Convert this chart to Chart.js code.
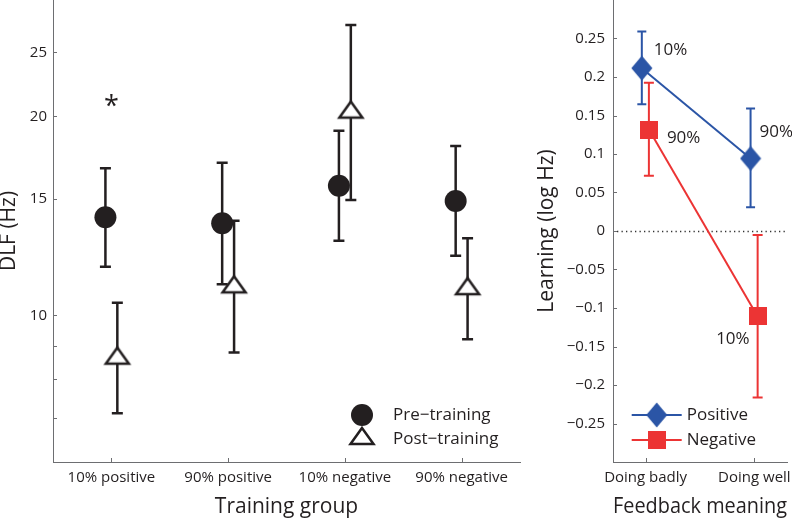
<!DOCTYPE html>
<html>
<head>
<meta charset="utf-8">
<script src="https://cdn.jsdelivr.net/npm/chart.js@4.4.1/dist/chart.umd.min.js"></script>
<style>
  html, body { margin: 0; padding: 0; background: #fff; }
  #wrap { position: relative; width: 792px; height: 520px; }
  canvas { position: absolute; top: 0; }
  #dlf { left: 0; }
  #learn { left: 522px; }
</style>
</head>
<body>
<div id="wrap">
  <canvas id="dlf" width="522" height="520"></canvas>
  <canvas id="learn" width="270" height="520"></canvas>
</div>
<script>
// Left panel: DLF (Hz) before / after training, per group
const groups = ['10% positive', '90% positive', '10% negative', '90% negative'];
const preDLF = [14.07, 13.78, 15.71, 14.89];
const preLow = [11.85, 11.14, 12.97, 12.31];
const preHigh = [16.7, 17.02, 19.03, 18.04];
const postDLF = [8.69, 11.14, 20.48, 11.07];
const postLow = [7.11, 8.79, 14.94, 9.2];
const postHigh = [10.45, 13.9, 27.5, 13.08];
const dlfTicks = [7, 8, 9, 10, 15, 20, 25];
const dlfTickLabels = ['', '', '', '10', '15', '20', '25'];
const starGroup = 0;
const starValue = 21;

// Right panel: learning (log Hz) by feedback meaning
const feedback = ['Doing badly', 'Doing well'];
const posLearn = [0.2115, 0.0942];
const posLow = [0.1645, 0.0307];
const posHigh = [0.259, 0.159];
const negLearn = [0.1317, -0.111];
const negLow = [0.0716, -0.2163];
const negHigh = [0.1926, -0.0052];
const posPct = ['10%', '90%'];
const negPct = ['90%', '10%'];
const learnTicks = [-0.25, -0.2, -0.15, -0.1, -0.05, 0, 0.05, 0.1, 0.15, 0.2, 0.25];
const learnTickLabels = ['\u22120.25', '\u22120.2', '\u22120.15', '\u22120.1', '\u22120.05', '0', '0.05', '0.1', '0.15', '0.2', '0.25'];

const ink = '#231f20';
const axisGray = '#6d6e71';
const blue = '#2b55a6';
const red = '#ec3434';
const FONT = "'Open Sans', sans-serif";

Chart.defaults.font.family = FONT;
Chart.defaults.color = ink;

// small canvases used as point styles
function sprite(w, h, paint) {
  const c = document.createElement('canvas');
  c.width = w;
  c.height = h;
  paint(c.getContext('2d'));
  return c;
}
const triangleImg = sprite(30, 26, g => {
  g.beginPath();
  g.moveTo(15, 5);
  g.lineTo(26.5, 21);
  g.lineTo(3.5, 21);
  g.closePath();
  g.fillStyle = '#fff';
  g.fill();
  g.lineWidth = 2.5;
  g.strokeStyle = ink;
  g.stroke();
});
const diamondImg = sprite(22, 26, g => {
  g.beginPath();
  g.moveTo(11, 0.5);
  g.lineTo(21.5, 13);
  g.lineTo(11, 25.5);
  g.lineTo(0.5, 13);
  g.closePath();
  g.fillStyle = blue;
  g.fill();
});
const squareImg = sprite(18, 18, g => {
  g.fillStyle = red;
  g.fillRect(0, 0, 18, 18);
});

// fixed axis boxes so both panels line up like the original figure
function fixBox(w, h) {
  return s => {
    if (w != null) s.width = w;
    if (h != null) s.height = h;
    s.paddingTop = s.paddingBottom = s.paddingLeft = s.paddingRight = 0;
  };
}

// vertical error bars with caps, from dataset errLow / errHigh
const errorBars = {
  id: 'errorBars',
  beforeDatasetsDraw(chart) {
    const ctx = chart.ctx;
    const ys = chart.scales.y;
    chart.data.datasets.forEach((ds, i) => {
      if (!ds.errLow) return;
      ctx.save();
      ctx.strokeStyle = ds.errColor;
      ctx.lineWidth = ds.errWidth;
      chart.getDatasetMeta(i).data.forEach((pt, j) => {
        const top = ys.getPixelForValue(ds.errHigh[j]);
        const bot = ys.getPixelForValue(ds.errLow[j]);
        const c = ds.errCap;
        ctx.beginPath();
        ctx.moveTo(pt.x, top);
        ctx.lineTo(pt.x, bot);
        ctx.moveTo(pt.x - c, top);
        ctx.lineTo(pt.x + c, top);
        ctx.moveTo(pt.x - c, bot);
        ctx.lineTo(pt.x + c, bot);
        ctx.stroke();
      });
      ctx.restore();
    });
  }
};

// tick marks pointing into the plot
const innerTicks = {
  id: 'innerTicks',
  afterDraw(chart) {
    const { ctx, chartArea: a } = chart;
    const xs = chart.scales.x;
    const ys = chart.scales.y;
    ctx.save();
    ctx.strokeStyle = axisGray;
    ctx.lineWidth = 1;
    ctx.beginPath();
    ys.ticks.forEach(t => {
      const p = Math.round(ys.getPixelForValue(t.value)) + 0.5;
      ctx.moveTo(a.left, p);
      ctx.lineTo(a.left + 4, p);
    });
    xs.ticks.forEach(t => {
      const p = Math.round(xs.getPixelForValue(t.value)) + 0.5;
      ctx.moveTo(p, a.bottom);
      ctx.lineTo(p, a.bottom - 4);
    });
    ctx.stroke();
    ctx.restore();
  }
};

// legend drawn inside the plot area
const boxLegend = {
  id: 'boxLegend',
  afterDraw(chart, args, o) {
    const { ctx, chartArea: a } = chart;
    ctx.save();
    ctx.font = '17px ' + FONT;
    ctx.textBaseline = 'middle';
    ctx.textAlign = 'left';
    chart.data.datasets.forEach((ds, i) => {
      const mx = a.left + o.markX;
      const my = a.bottom + o.markY[i];
      if (o.line) {
        ctx.strokeStyle = ds.borderColor;
        ctx.lineWidth = 2;
        ctx.beginPath();
        ctx.moveTo(a.left + o.line[0], my);
        ctx.lineTo(a.left + o.line[1], my);
        ctx.stroke();
      }
      if (ds.pointStyle === 'circle') {
        ctx.fillStyle = ds.pointBackgroundColor;
        ctx.beginPath();
        ctx.arc(mx, my, ds.pointRadius, 0, Math.PI * 2);
        ctx.fill();
      } else {
        const img = ds.pointStyle;
        ctx.drawImage(img, mx - img.width / 2, my - img.height / 2);
      }
      ctx.fillStyle = ink;
      ctx.fillText(ds.label, a.left + o.textX, a.bottom + o.textY[i]);
    });
    ctx.restore();
  }
};

// significance star
const star = {
  id: 'star',
  afterDatasetsDraw(chart) {
    const ctx = chart.ctx;
    const x = chart.scales.x.getPixelForValue(starGroup);
    const y = chart.scales.y.getPixelForValue(starValue);
    ctx.save();
    ctx.font = '27px ' + FONT;
    ctx.fillStyle = ink;
    ctx.textAlign = 'center';
    ctx.textBaseline = 'middle';
    ctx.fillText('*', x, y + 5);
    ctx.restore();
  }
};

// percentage labels next to each point
const pctLabels = {
  id: 'pctLabels',
  afterDatasetsDraw(chart) {
    const ctx = chart.ctx;
    ctx.save();
    ctx.font = '17px ' + FONT;
    ctx.fillStyle = ink;
    ctx.textBaseline = 'middle';
    chart.data.datasets.forEach((ds, i) => {
      if (!ds.pct) return;
      chart.getDatasetMeta(i).data.forEach((pt, j) => {
        const [dx, dy, align] = ds.pctAt[j];
        ctx.textAlign = align;
        ctx.fillText(ds.pct[j], pt.x + dx, pt.y + dy);
      });
    });
    ctx.restore();
  }
};

// dotted zero line
const zeroLine = {
  id: 'zeroLine',
  beforeDatasetsDraw(chart) {
    const { ctx, chartArea: a } = chart;
    const y = Math.round(chart.scales.y.getPixelForValue(0)) + 0.5;
    ctx.save();
    ctx.strokeStyle = '#333';
    ctx.lineWidth = 1.3;
    ctx.setLineDash([1.3, 3.2]);
    ctx.beginPath();
    ctx.moveTo(a.left + 4, y);
    ctx.lineTo(a.right, y);
    ctx.stroke();
    ctx.restore();
  }
};

const preDodge = -0.051;
const postDodge = 0.051;
const posDodge = -0.035;
const negDodge = 0.03;

new Chart(document.getElementById('dlf'), {
  type: 'scatter',
  data: {
    datasets: [
      {
        label: 'Pre\u2212training',
        data: preDLF.map((v, i) => ({ x: i + preDodge, y: v })),
        pointStyle: 'circle',
        pointRadius: 11,
        pointBackgroundColor: ink,
        pointBorderColor: ink,
        pointBorderWidth: 0,
        errLow: preLow,
        errHigh: preHigh,
        errColor: ink,
        errWidth: 2.5,
        errCap: 5.5,
      },
      {
        label: 'Post\u2212training',
        data: postDLF.map((v, i) => ({ x: i + postDodge, y: v })),
        pointStyle: triangleImg,
        pointRadius: 12,
        errLow: postLow,
        errHigh: postHigh,
        errColor: ink,
        errWidth: 2.5,
        errCap: 5.5,
      },
    ],
  },
  options: {
    responsive: false,
    animation: false,
    layout: { autoPadding: false, padding: { left: 0, right: 2, top: 0, bottom: 0 } },
    scales: {
      x: {
        type: 'linear',
        min: -0.5,
        max: 3.5,
        bounds: 'data',
        grid: { display: false, drawTicks: false },
        border: { color: axisGray },
        afterBuildTicks: s => { s.ticks = groups.map((g, i) => ({ value: i })); },
        ticks: { callback: v => groups[v], padding: 7, font: { size: 15 }, maxRotation: 0, autoSkip: false },
        title: { display: true, text: 'Training group', font: { size: 21 }, padding: { top: 0, bottom: 0 } },
        afterFit: fixBox(null, 58),
      },
      y: {
        type: 'logarithmic',
        min: 6,
        max: 30,
        bounds: 'data',
        grid: { display: false, drawTicks: false },
        border: { color: axisGray },
        afterBuildTicks: s => { s.ticks = dlfTicks.map(v => ({ value: v })); },
        ticks: { callback: v => dlfTickLabels[dlfTicks.indexOf(v)] || '', padding: 6, font: { size: 15 }, autoSkip: false },
        title: { display: true, text: 'DLF (Hz)', font: { size: 21, lineHeight: 0.82 }, padding: { top: 0, bottom: 0 } },
        afterFit: fixBox(53, null),
      },
    },
    plugins: {
      legend: { display: false },
      tooltip: { enabled: false },
      boxLegend: { markX: 309, markY: [-47, -26], textX: 340, textY: [-46.5, -23] },
    },
  },
  plugins: [errorBars, innerTicks, boxLegend, star],
});

new Chart(document.getElementById('learn'), {
  type: 'scatter',
  data: {
    datasets: [
      {
        label: 'Positive',
        data: posLearn.map((v, i) => ({ x: i + posDodge, y: v })),
        showLine: true,
        borderColor: blue,
        borderWidth: 2,
        pointStyle: diamondImg,
        pointRadius: 12,
        errLow: posLow,
        errHigh: posHigh,
        errColor: blue,
        errWidth: 2,
        errCap: 4.5,
        pct: posPct,
        pctAt: [[12, -18, 'left'], [9, -26, 'left']],
      },
      {
        label: 'Negative',
        data: negLearn.map((v, i) => ({ x: i + negDodge, y: v })),
        showLine: true,
        borderColor: red,
        borderWidth: 2,
        pointStyle: squareImg,
        pointRadius: 12,
        errLow: negLow,
        errHigh: negHigh,
        errColor: red,
        errWidth: 2,
        errCap: 5,
        pct: negPct,
        pctAt: [[18, 9, 'left'], [-8, 23, 'right']],
      },
    ],
  },
  options: {
    responsive: false,
    animation: false,
    layout: { autoPadding: false, padding: { left: 0, right: 5, top: 0, bottom: 0 } },
    scales: {
      x: {
        type: 'linear',
        min: -0.3,
        max: 1.3,
        bounds: 'data',
        grid: { display: false, drawTicks: false },
        border: { color: axisGray },
        afterBuildTicks: s => { s.ticks = feedback.map((f, i) => ({ value: i })); },
        ticks: { callback: v => feedback[v], padding: 7, font: { size: 15 }, maxRotation: 0, autoSkip: false },
        title: { display: true, text: 'Feedback meaning', font: { size: 21 }, padding: { top: 0, bottom: 0 } },
        afterFit: fixBox(null, 58),
      },
      y: {
        type: 'linear',
        min: -0.3,
        max: 0.3,
        bounds: 'data',
        grid: { display: false, drawTicks: false },
        border: { color: axisGray },
        afterBuildTicks: s => { s.ticks = learnTicks.map(v => ({ value: v })); },
        ticks: { callback: (v, i) => learnTickLabels[i], padding: 8, font: { size: 15 }, autoSkip: false },
        title: { display: true, text: 'Learning (log Hz)', font: { size: 21, lineHeight: 0.82 }, padding: { top: 16, bottom: 0 } },
        afterFit: fixBox(91, null),
      },
    },
    plugins: {
      legend: { display: false },
      tooltip: { enabled: false },
      boxLegend: { markX: 43.7, markY: [-47, -22], line: [18.7, 68.7], textX: 73.7, textY: [-47, -22] },
    },
  },
  plugins: [errorBars, zeroLine, innerTicks, boxLegend, pctLabels],
});
</script>
</body>
</html>
